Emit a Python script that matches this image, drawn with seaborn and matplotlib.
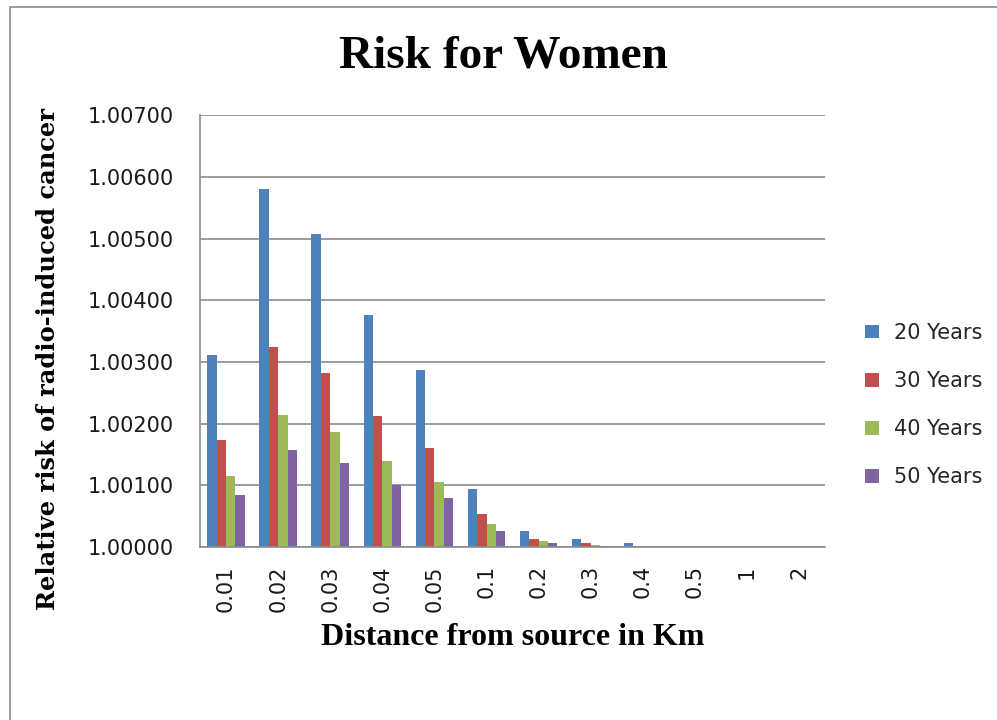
import pandas as pd
import matplotlib.pyplot as plt
import seaborn as sns
from matplotlib.patches import Rectangle

distances = ['0.01', '0.02', '0.03', '0.04', '0.05', '0.1', '0.2', '0.3', '0.4', '0.5', '1', '2']
ages = ['20 Years', '30 Years', '40 Years', '50 Years']
risk_20 = [1.00312, 1.00581, 1.00507, 1.00377, 1.00287, 1.00095, 1.00027, 1.00014, 1.00007, 1.00000, 1.00000, 1.00000]
risk_30 = [1.00173, 1.00325, 1.00283, 1.00212, 1.00160, 1.00053, 1.00014, 1.00007, 1.00002, 1.00000, 1.00000, 1.00000]
risk_40 = [1.00115, 1.00215, 1.00186, 1.00140, 1.00105, 1.00037, 1.00010, 1.00003, 1.00001, 1.00000, 1.00000, 1.00000]
risk_50 = [1.00085, 1.00157, 1.00137, 1.00100, 1.00079, 1.00027, 1.00007, 1.00002, 1.00001, 1.00000, 1.00000, 1.00000]
colors = ['#4F81BD', '#C0504D', '#9BBB59', '#8064A2']

BASE = 1.0


def build_frame():
    rows = []
    for age, vals in zip(ages, [risk_20, risk_30, risk_40, risk_50]):
        for d, v in zip(distances, vals):
            rows.append({'distance': d, 'age': age, 'risk': v - BASE})
    return pd.DataFrame(rows)


def main():
    sns.set_style('white')
    df = build_frame()

    fig = plt.figure(figsize=(9.97, 7.2), dpi=100)
    ax = fig.add_axes([0.2006, 0.240, 0.627, 0.600])
    sns.barplot(data=df, x='distance', y='risk', hue='age', palette=colors,
                width=0.72, saturation=1, linewidth=0, ax=ax, legend=True)

    ax.set_ylim(0, 0.007)
    yt = [i * 0.001 for i in range(8)]
    ax.set_yticks(yt)
    ax.set_yticklabels([f'{BASE + t:.5f}' for t in yt], fontsize=15,
                       family='DejaVu Sans', color='#1a1a1a')
    ax.set_xticks(range(len(distances)))
    ax.set_xticklabels(distances, rotation=90, fontsize=15, family='DejaVu Sans',
                       color='#1a1a1a')
    ax.set_xlim(-0.5, len(distances) - 0.5)
    ax.yaxis.grid(True, color='#8c8c8c', linewidth=1.2)
    ax.set_axisbelow(True)
    for s in ['top', 'right']:
        ax.spines[s].set_visible(False)
    for s in ['left', 'bottom']:
        ax.spines[s].set_color('#8c8c8c')
        ax.spines[s].set_linewidth(1.2)
    ax.tick_params(axis='y', length=0, pad=19)
    ax.tick_params(axis='x', length=0, pad=13)

    ax.set_xlabel('Distance from source in Km', family='Liberation Serif',
                  fontweight='bold', fontsize=23, labelpad=8, color='black')
    ax.set_ylabel('')
    fig.text(48 / 997, 1 - 359 / 720, 'Relative risk of radio-induced cancer',
             rotation=90, ha='center', va='center', family='DejaVu Serif',
             fontweight='bold', fontsize=17.4, color='black')
    fig.text(0.505, 0.922, 'Risk for Women', ha='center', va='center',
             family='Liberation Serif', fontweight='bold', fontsize=34, color='black')

    ax.legend(loc='center left', bbox_to_anchor=(0.868, 0.4375),
              bbox_transform=fig.transFigure, frameon=False,
              prop={'family': 'DejaVu Sans', 'size': 15}, labelspacing=1.35,
              handlelength=0.65, handleheight=0.65, handletextpad=0.7,
              borderpad=0, borderaxespad=0)

    fig.patches.append(Rectangle((0.010, -0.05), 1.2, 1.04, transform=fig.transFigure,
                                 fill=False, edgecolor='#8c8c8c', linewidth=1.2))

    fig.savefig('out.png', dpi=100)


if __name__ == "__main__":
    main()
